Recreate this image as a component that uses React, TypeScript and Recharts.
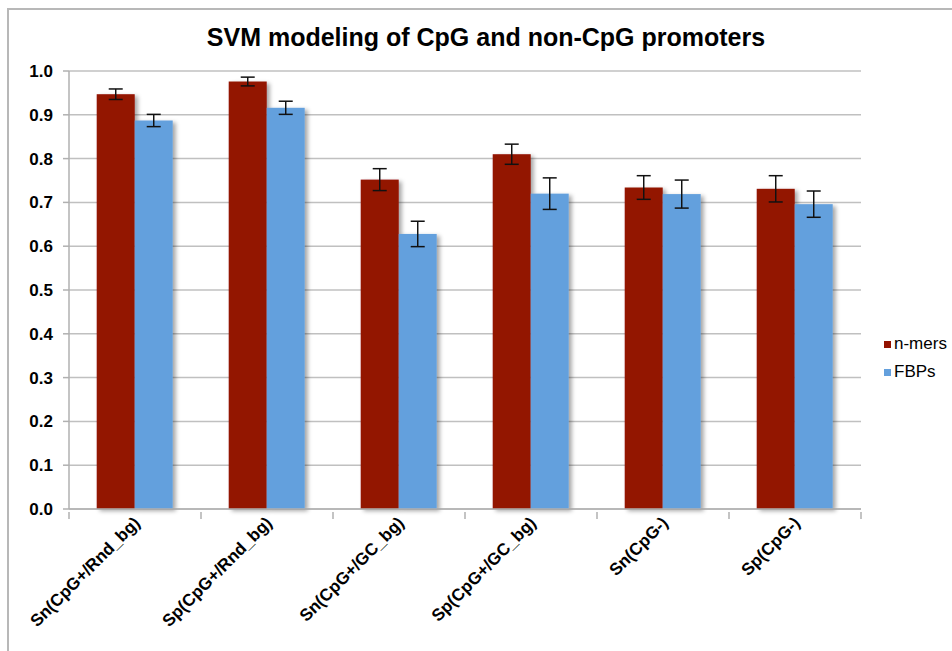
import React from 'react';
import { BarChart, Bar, XAxis, YAxis, CartesianGrid, ErrorBar } from 'recharts';

const categories = ['Sn(CpG+/Rnd_bg)', 'Sp(CpG+/Rnd_bg)', 'Sn(CpG+/GC_bg)', 'Sp(CpG+/GC_bg)', 'Sn(CpG-)', 'Sp(CpG-)'];
const nmers = [0.947, 0.976, 0.752, 0.81, 0.734, 0.731];
const nmersErr = [0.012, 0.01, 0.025, 0.023, 0.027, 0.03];
const fbps = [0.887, 0.916, 0.628, 0.72, 0.719, 0.696];
const fbpsErr = [0.014, 0.015, 0.029, 0.036, 0.032, 0.03];
const yTicks = [0, 0.1, 0.2, 0.3, 0.4, 0.5, 0.6, 0.7, 0.8, 0.9, 1.0];
const seriesLabels = ['n-mers', 'FBPs'];

const data = categories.map((c, i) => ({
  name: c,
  nmers: nmers[i],
  nmersErr: nmersErr[i],
  fbps: fbps[i],
  fbpsErr: fbpsErr[i],
}));

const RED = '#931200';
const BLUE = '#64a0dd';
const FONT = 'Liberation Sans, Arial, sans-serif';
const AXIS = '#b0b0b0';

const ShadowBar = (props: any) => {
  const { x, y, width, height, fill } = props;
  if (height <= 0) return null;
  return <rect x={x} y={y} width={width} height={height} fill={fill} filter="url(#barShadow)" />;
};

const XTick = (props: any) => {
  const { x, y, payload, index } = props;
  const half = payload && typeof payload.offset === 'number' ? payload.offset : 0;
  const last = index === categories.length - 1;
  return (
    <g>
      {half > 0 && (
        <line x1={x - half} x2={x - half} y1={y - 5} y2={y + 2} stroke={AXIS} strokeWidth={1.5} />
      )}
      {half > 0 && last && (
        <line x1={x + half} x2={x + half} y1={y - 5} y2={y + 2} stroke={AXIS} strokeWidth={1.5} />
      )}
      <g transform={`translate(${x + 6},${y + 7})`}>
        <text
          textAnchor="end"
          transform="rotate(-45)"
          fontFamily={FONT}
          fontWeight="bold"
          fontSize={17}
          fill="#000"
        >
          {payload.value}
        </text>
      </g>
    </g>
  );
};

export default function App() {
  return (
    <div style={{ position: 'absolute', left: 0, top: 0, width: 952, height: 651, background: '#fff', overflow: 'hidden' }}>
      <svg width={0} height={0} style={{ position: 'absolute' }}>
        <defs>
          <filter id="barShadow" x="-20%" y="-20%" width="150%" height="150%">
            <feDropShadow dx={3} dy={2} stdDeviation={2} floodColor="#000" floodOpacity={0.35} />
          </filter>
        </defs>
      </svg>
      <div
        style={{
          position: 'absolute',
          left: 7,
          top: 8,
          width: 960,
          height: 660,
          borderLeft: '2px solid #b8b8b8',
          borderTop: '2px solid #b8b8b8',
        }}
      />
      <div
        style={{
          position: 'absolute',
          left: 0,
          top: 23,
          width: 952,
          textAlign: 'center',
          fontFamily: FONT,
          fontWeight: 'bold',
          fontSize: 25,
          color: '#000',
          paddingLeft: 20,
          boxSizing: 'border-box',
        }}
      >
        SVM modeling of CpG and non-CpG promoters
      </div>
      <div style={{ position: 'absolute', left: 884, top: 330, fontFamily: FONT, fontSize: 17, color: '#000' }}>
        {seriesLabels.map((label, i) => (
          <div key={label} style={{ display: 'flex', alignItems: 'center', height: 28 }}>
            <span style={{ display: 'inline-block', width: 7, height: 7, background: i === 0 ? RED : BLUE, marginRight: 3 }} />
            <span>{label}</span>
          </div>
        ))}
      </div>
      <div style={{ position: 'absolute', left: 0, top: 0 }}>
        <BarChart
          width={952}
          height={651}
          data={data}
          margin={{ top: 71, right: 91, bottom: 12, left: 9 }}
          barCategoryGap="21%"
          barGap={0}
        >
          <CartesianGrid vertical={false} stroke="#c0c0c0" strokeWidth={1.5} />
          <XAxis
            dataKey="name"
            interval={0}
            tickLine={false}
            axisLine={{ stroke: AXIS, strokeWidth: 1.5 }}
            tick={<XTick />}
            height={130}
          />
          <YAxis
            domain={[0, 1]}
            ticks={yTicks}
            width={60}
            interval={0}
            tickFormatter={(v: number) => v.toFixed(1)}
            tickSize={6}
            tickMargin={10}
            tickLine={{ stroke: AXIS, strokeWidth: 1.5 }}
            axisLine={{ stroke: AXIS, strokeWidth: 1.5 }}
            tick={{ fill: '#000', fontFamily: FONT, fontWeight: 'bold', fontSize: 17 }}
          />
          <Bar dataKey="nmers" name="n-mers" fill={RED} shape={<ShadowBar />} isAnimationActive={false}>
            <ErrorBar dataKey="nmersErr" width={7} stroke="#111" strokeWidth={1.5} />
          </Bar>
          <Bar dataKey="fbps" name="FBPs" fill={BLUE} shape={<ShadowBar />} isAnimationActive={false}>
            <ErrorBar dataKey="fbpsErr" width={7} stroke="#111" strokeWidth={1.5} />
          </Bar>
        </BarChart>
      </div>
    </div>
  );
}
